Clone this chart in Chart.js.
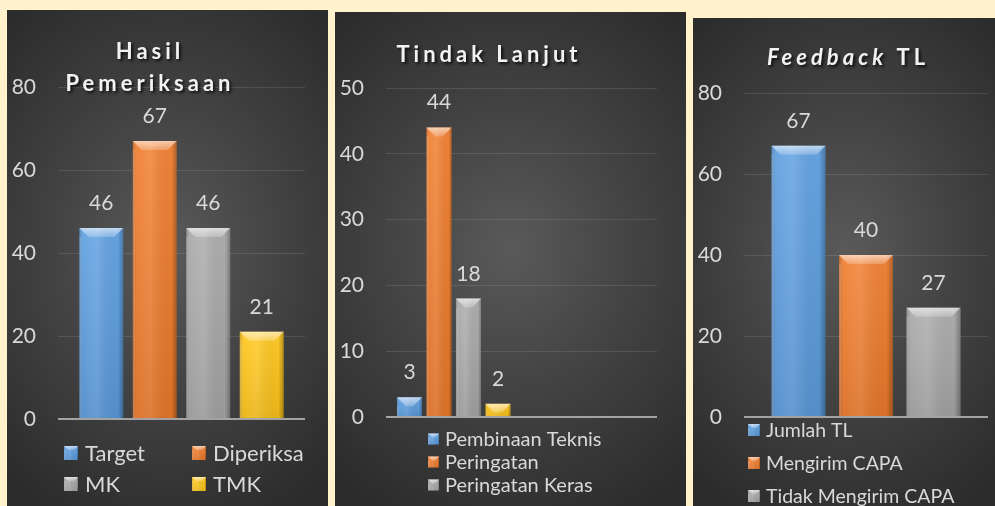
<!DOCTYPE html>
<html>
<head>
<meta charset="utf-8">
<script src="https://cdn.jsdelivr.net/npm/chart.js@4.4.0/dist/chart.umd.min.js"></script>
<style>
    body {
        margin: 0;
        width: 995px;
        height: 506px;
        overflow: hidden;
        position: relative;
        background: #FFF2CC;
        font-family: Lato, sans-serif;
    }
    .panel {
        position: absolute;
        background: radial-gradient(ellipse 75% 60% at 50% 48%, #5a5a5a 0%, #444 45%, #2c2c2c 100%);
    }
    .panel canvas { position: absolute; left: 0; top: 0; }
</style>
</head>
<body>

<div class="panel" style="left:7px; top:10px; width:321px; height:496px;">
    <canvas id="hasilChart" width="321" height="496"></canvas>
</div>
<div class="panel" style="left:335px; top:12px; width:351px; height:494px;">
    <canvas id="tindakChart" width="351" height="494"></canvas>
</div>
<div class="panel" style="left:693px; top:18px; width:306px; height:488px;">
    <canvas id="feedbackChart" width="306" height="488"></canvas>
</div>

<script>
// data
const hasilSeries = ['Target', 'Diperiksa', 'MK', 'TMK'];
const hasilValues = [46, 67, 46, 21];

// 4th series legend entry is cut off in the picture
const tindakSeries = ['Pembinaan Teknis', 'Peringatan', 'Peringatan Keras', ''];
const tindakValues = [3, 44, 18, 2];

const feedbackSeries = ['Jumlah TL', 'Mengirim CAPA', 'Tidak Mengirim CAPA'];
const feedbackValues = [67, 40, 27];

const hasilTicks = { max: 80, step: 20 };
const tindakTicks = { max: 50, step: 10 };
const feedbackTicks = { max: 80, step: 20 };

const barColors = ['#5C9EE0', '#F07C2C', '#A9A9A9', '#FFC61A'];
const textColor = '#d9d9d9';


// bevel look for a bar / legend box
function bevel(ctx, x, top, w, bottom, b) {
    let g = ctx.createLinearGradient(x, 0, x + w, 0);
    g.addColorStop(0, 'rgba(0,0,0,0.22)');
    g.addColorStop(0.1, 'rgba(255,255,255,0.04)');
    g.addColorStop(0.4, 'rgba(255,255,255,0.12)');
    g.addColorStop(0.88, 'rgba(0,0,0,0.02)');
    g.addColorStop(1, 'rgba(0,0,0,0.3)');
    ctx.fillStyle = g;
    ctx.fillRect(x, top, w, bottom - top);

    let v = ctx.createLinearGradient(0, top, 0, bottom);
    v.addColorStop(0, 'rgba(255,255,255,0.06)');
    v.addColorStop(1, 'rgba(0,0,0,0.08)');
    ctx.fillStyle = v;
    ctx.fillRect(x, top, w, bottom - top);

    b = Math.min(b, (bottom - top) * 0.7, w / 2);
    ctx.beginPath();
    ctx.moveTo(x, top);
    ctx.lineTo(x + w, top);
    ctx.lineTo(x + w - b, top + b);
    ctx.lineTo(x + b, top + b);
    ctx.closePath();
    let t = ctx.createLinearGradient(0, top, 0, top + b);
    t.addColorStop(0, 'rgba(255,255,255,0.6)');
    t.addColorStop(1, 'rgba(255,255,255,0.2)');
    ctx.fillStyle = t;
    ctx.fill();

    // light left edge
    ctx.fillStyle = 'rgba(255,255,255,0.15)';
    ctx.fillRect(x, top + b, 2, bottom - top - b);
}

const barLook = {
    id: 'barLook',
    afterDatasetsDraw(chart) {
        const ctx = chart.ctx;
        ctx.save();
        chart.data.datasets.forEach(function(ds, i) {
            chart.getDatasetMeta(i).data.forEach(function(bar, j) {
                if (ds.data[j] === null) return;
                const p = bar.getProps(['x', 'y', 'base', 'width'], true);
                bevel(ctx, p.x - p.width / 2, p.y, p.width, p.base, 9);
                // value above bar
                ctx.fillStyle = textColor;
                ctx.font = '21px Lato';
                ctx.textAlign = 'center';
                ctx.textBaseline = 'alphabetic';
                ctx.fillText(ds.data[j], p.x, p.y - 18);
            });
        });
        ctx.restore();
    }
};

const panelTitle = {
    id: 'panelTitle',
    afterDraw(chart, args, opts) {
        const ctx = chart.ctx;
        ctx.save();
        ctx.letterSpacing = opts.spacing + 'px';
        ctx.shadowColor = 'rgba(0,0,0,0.75)';
        ctx.shadowOffsetX = 2;
        ctx.shadowOffsetY = 2;
        ctx.shadowBlur = 3;
        ctx.fillStyle = '#f2f2f2';
        ctx.textBaseline = 'alphabetic';
        ctx.textAlign = 'left';
        opts.lines.forEach(function(line, k) {
            let total = 0;
            line.forEach(function(seg) {
                ctx.font = (seg.italic ? 'italic ' : '') + 'bold ' + opts.size + 'px Lato';
                total += ctx.measureText(seg.text).width;
            });
            total -= opts.spacing;
            let x = opts.x - total / 2;
            line.forEach(function(seg) {
                ctx.font = (seg.italic ? 'italic ' : '') + 'bold ' + opts.size + 'px Lato';
                ctx.fillText(seg.text, x, opts.y + k * opts.lineH);
                x += ctx.measureText(seg.text).width;
            });
        });
        ctx.restore();
    }
};

const boxLegend = {
    id: 'boxLegend',
    afterDraw(chart, args, opts) {
        const ctx = chart.ctx;
        ctx.save();
        chart.data.datasets.forEach(function(ds, i) {
            if (!ds.label) return;
            const col = i % opts.cols;
            const row = Math.floor(i / opts.cols);
            const x = opts.x + col * opts.colW;
            const y = opts.y + row * opts.rowH;
            const s = opts.box;
            ctx.fillStyle = ds.backgroundColor;
            ctx.fillRect(x, y - s / 2, s, s);
            bevel(ctx, x, y - s / 2, s, y + s / 2, 4);
            ctx.fillStyle = textColor;
            ctx.font = opts.size + 'px Lato';
            ctx.textAlign = 'left';
            ctx.textBaseline = 'middle';
            ctx.fillText(ds.label, x + opts.gap, y + 1);
        });
        ctx.restore();
    }
};


function makeChart(id, series, values, ticks, cats, layout) {
    const datasets = series.map(function(name, i) {
        const d = [values[i]];
        for (let k = 1; k < cats; k++) d.push(null);
        return {
            label: name,
            data: d,
            backgroundColor: barColors[i],
            borderWidth: 0,
            categoryPercentage: layout.catPct,
            barPercentage: layout.barPct
        };
    });
    const labels = [];
    for (let k = 0; k < cats; k++) labels.push('');

    return new Chart(document.getElementById(id), {
        type: 'bar',
        data: { labels: labels, datasets: datasets },
        plugins: [barLook, panelTitle, boxLegend],
        options: {
            responsive: false,
            animation: false,
            layout: { padding: layout.padding },
            scales: {
                x: { display: false },
                y: {
                    min: 0,
                    max: ticks.max,
                    afterFit: function(scale) { scale.width = 51; },
                    border: { display: false },
                    ticks: {
                        stepSize: ticks.step,
                        padding: 22,
                        color: textColor,
                        font: { family: 'Lato', size: 21 }
                    },
                    grid: {
                        drawTicks: false,
                        color: function(c) { return c.tick.value === 0 ? '#a3a3a3' : 'rgba(255,255,255,0.11)'; },
                        lineWidth: function(c) { return c.tick.value === 0 ? 2 : 1; }
                    }
                }
            },
            plugins: {
                legend: { display: false },
                tooltip: { enabled: false },
                panelTitle: layout.title,
                boxLegend: layout.legend
            }
        }
    });
}

makeChart('hasilChart', hasilSeries, hasilValues, hasilTicks, 1, {
    padding: { left: 0, top: 77, right: 23, bottom: 87 },
    catPct: 0.866, barPct: 0.82,
    title: { lines: [[{ text: 'Hasil' }], [{ text: 'Pemeriksaan' }]], x: 141, y: 49, lineH: 32, size: 22, spacing: 4 },
    legend: { x: 57, y: 443, cols: 2, colW: 128, rowH: 31, box: 14, gap: 21, size: 22 }
});

makeChart('tindakChart', tindakSeries, tindakValues, tindakTicks, 2, {
    padding: { left: 0, top: 76, right: 29, bottom: 89 },
    catPct: 0.871, barPct: 0.85,
    title: { lines: [[{ text: 'Tindak Lanjut' }]], x: 152, y: 50, lineH: 32, size: 22, spacing: 4 },
    legend: { x: 93, y: 427, cols: 1, colW: 0, rowH: 23, box: 11, gap: 17, size: 20 }
});

makeChart('feedbackChart', feedbackSeries, feedbackValues, feedbackTicks, 1, {
    padding: { left: 0, top: 75, right: 11, bottom: 89 },
    catPct: 0.83, barPct: 0.8,
    title: { lines: [[{ text: 'Feedback', italic: true }, { text: ' TL' }]], x: 153, y: 47, lineH: 32, size: 22, spacing: 4 },
    legend: { x: 55, y: 412, cols: 1, colW: 0, rowH: 33, box: 12, gap: 18, size: 19.5 }
});
</script>
</body>
</html>
